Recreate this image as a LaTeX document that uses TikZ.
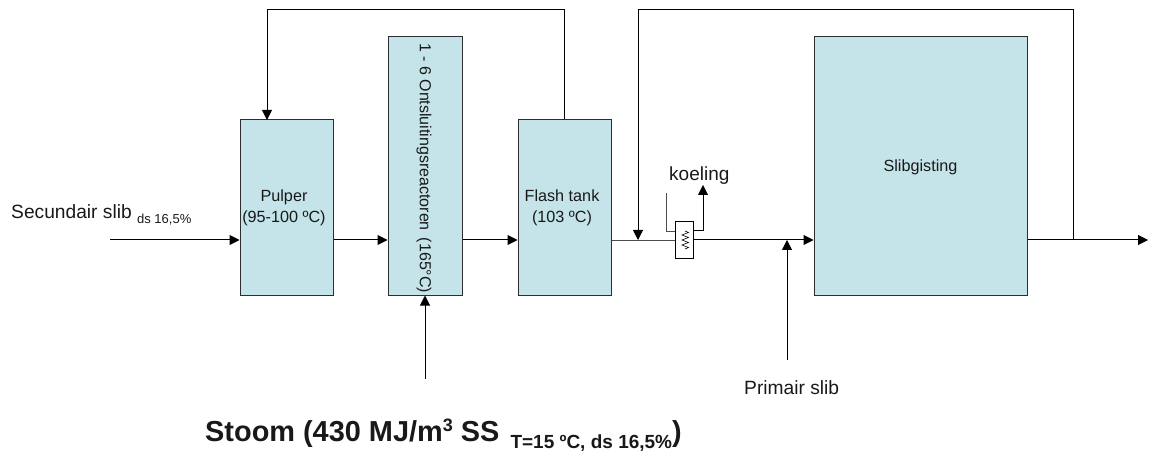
\documentclass[tikz,border=0pt]{standalone}
\usepackage{fontspec}
\setmainfont{Liberation Sans}
\usetikzlibrary{arrows.meta}
\definecolor{boxfill}{RGB}{197,228,233}
\definecolor{boxline}{RGB}{45,45,45}
\tikzset{
  x=1pt,y=-1pt,
  procbox/.style={draw=boxline,fill=boxfill,line width=1pt,minimum width=#1,inner sep=0pt,align=center},
  flow/.style={line width=1pt,draw=black,-{Triangle[length=10pt,width=10pt]}},
  pipe/.style={line width=0.9pt,draw=black!70},
  lbl/.style={inner sep=0pt,font=\fontsize{16.2}{21}\selectfont,align=center,text=black!90},
  freetxt/.style={inner sep=0pt,anchor=base west,text=black!90}
}
\begin{document}
\begin{tikzpicture}
\useasboundingbox (0,0) rectangle (1149,457);
\node[procbox=93pt,minimum height=175pt] (pulper) at (286.5,207.5) {};
\node[procbox=74pt,minimum height=258pt] (reactor) at (425,166) {};
\node[procbox=93pt,minimum height=175pt] (flash) at (564.5,207.5) {};
\node[procbox=213pt,minimum height=258pt] (gist) at (920.5,166) {};
\node[draw=black,fill=white,line width=0.7pt,minimum width=18pt,minimum height=37pt,inner sep=0pt] (hx) at (684,239.5) {};
\node[lbl] (tp) at (284,208) {Pulper\\(95-100 ºC)};
\node[lbl,rotate=-90,anchor=west,font=\fontsize{16}{20}\selectfont] (tr) at (424,43) {1 - 6 Ontsluitingsreactoren\, (165°C)};
\node[lbl] (tf) at (562,208) {Flash tank\\(103 ºC)};
\node[lbl] (tg) at (920.5,167) {Slibgisting};
\node[freetxt,font=\fontsize{19.2}{22}\selectfont] (ts) at (11,219) {Secundair slib {\fontsize{13}{15}\selectfont\raisebox{-5pt}{ds 16,5\%}}};
\node[freetxt,font=\fontsize{19}{22}\selectfont] (tk) at (669,181) {koeling};
\node[freetxt,font=\fontsize{19.2}{22}\selectfont] (tm) at (744,394) {Primair slib};
\node[freetxt,font=\bfseries\fontsize{28.9}{33}\selectfont] (tst) at (205,441) {Stoom (430 MJ/m\raisebox{10pt}{\fontsize{18}{20}\selectfont 3} SS\hspace{3pt} {\fontsize{19}{20}\selectfont\raisebox{-7pt}{T=15 ºC, ds 16,5\%}})};
\coordinate (in) at (110,240);
\coordinate (st) at (425,379);
\coordinate (ps) at (787,360);
\coordinate (out) at (1148,240);
\coordinate (j1) at (638,240);
\coordinate (j2) at (1073.5,240);
\coordinate (j3) at (787,240);
\coordinate (kin) at (666,193);
\coordinate (kout) at (703,185);
\draw[flow] (in) -- (pulper.west |- in);
\draw[flow] (pulper.east |- in) -- (reactor.west |- in);
\draw[flow] (reactor.east |- in) -- (flash.west |- in);
\draw[flow] (st) -- (reactor.south);
\draw[flow] (flash.north) |- (267,10) -- (267,120);
\draw[pipe] (flash.east |- j1) -- (hx.west |- j1);
\draw[flow] (hx.east |- j1) -- (gist.west |- j1);
\draw[flow] (ps) -- (j3);
\draw[flow] (gist.east |- j1) -- (out);
\draw[flow] (j2) |- (638,10) -- (j1);
\draw[pipe] (kin) |- (hx.west |- 0,231);
\draw[flow] (hx.east |- 0,231) -| (kout);
\draw[line width=0.6pt] (685,231) -- ++(3.5,1.5) -- ++(-6.5,2.5) -- ++(6.5,2.5) -- ++(-6.5,2.5) -- ++(6.5,2.5) -- ++(-6.5,2.5) -- ++(6.5,2.5) -- ++(-3.5,1.5);
\end{tikzpicture}
\end{document}
